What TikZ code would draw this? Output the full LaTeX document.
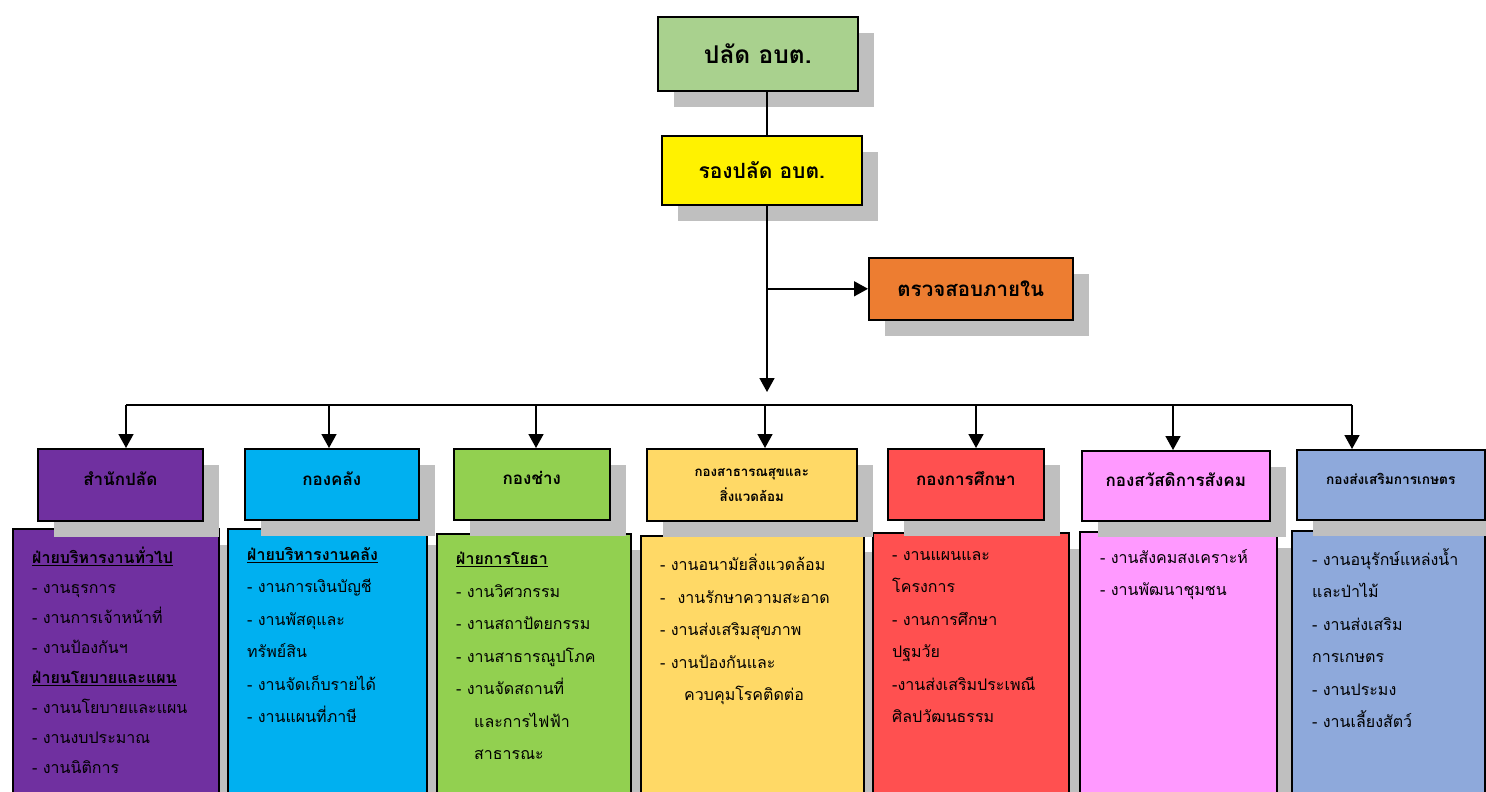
\documentclass[tikz,border=0pt]{standalone}
\usepackage{fontspec}
\newfontfamily\thaifont[Script=Thai]{Loma}
\usetikzlibrary{arrows.meta,shadows}
\definecolor{topgreen}{HTML}{A9D18E}
\definecolor{auditorange}{HTML}{ED7D31}
\definecolor{officepurple}{HTML}{7030A0}
\definecolor{financecyan}{HTML}{00B0F0}
\definecolor{worksgreen}{HTML}{92D050}
\definecolor{healthgold}{HTML}{FFD966}
\definecolor{edured}{HTML}{FF5050}
\definecolor{welfarepink}{HTML}{FF99FF}
\definecolor{agriblue}{HTML}{8EA9DB}
\definecolor{shadowgray}{HTML}{BFBFBF}
\tikzset{
  box/.style={draw,line width=1.6pt,anchor=north west,inner sep=0pt,
    general shadow={fill=shadowgray,shadow xshift=16pt,shadow yshift=-16pt}},
  headbox/.style={box,text depth=12pt,font=\thaifont\bfseries\fontsize{17}{20}\selectfont},
  bodybox/.style={box,minimum height=320pt},
  worklist/.style={anchor=north west,inner sep=0pt,align=left,text width=200pt,
    font=\thaifont\fontsize{16}{32.5}\selectfont},
  con/.style={line width=1.6pt},
  arr/.style={con,-{Triangle[length=14pt,width=15pt]}}
}
\begin{document}
\begin{tikzpicture}[x=1pt,y=-1pt]
  \useasboundingbox (0,0) rectangle (1486,792);
  % top of the chart
  \node[box,fill=topgreen,minimum width=200pt,minimum height=74pt,
    font=\thaifont\bfseries\fontsize{24.5}{28}\selectfont] (chief) at (657,16) {ปลัด อบต.};
  \node[box,fill=yellow,minimum width=200pt,minimum height=69pt,
    font=\thaifont\bfseries\fontsize{21}{24}\selectfont] (deputy) at (661,135) {รองปลัด อบต.};
  \node[box,fill=auditorange,minimum width=204pt,minimum height=62pt,
    font=\thaifont\bfseries\fontsize{20.5}{24}\selectfont] (audit) at (868,257) {ตรวจสอบภายใน};
  \coordinate (tip) at (767,392);
  \draw[con] (tip |- chief.south) -- (tip |- deputy.north);
  \draw[arr] (tip |- deputy.south) -- (tip);
  \draw[arr] (tip |- audit.west) -- (audit.west);
  \coordinate (busL) at (126,405);
  \coordinate (busR) at (1352,405);
  \draw[con] (busL) -- (busR);

  % divisions, lists first so the shadows of the heads lie on them
  \node[bodybox,fill=officepurple,minimum width=206pt] (b1) at (12,528) {};
  \node[bodybox,fill=financecyan,minimum width=199pt] (b2) at (227,528) {};
  \node[bodybox,fill=worksgreen,minimum width=194pt] (b3) at (436,533) {};
  \node[bodybox,fill=healthgold,minimum width=223pt] (b4) at (640,535) {};
  \node[bodybox,fill=edured,minimum width=196pt] (b5) at (872,532) {};
  \node[bodybox,fill=welfarepink,minimum width=197pt] (b6) at (1079,531) {};
  \node[bodybox,fill=agriblue,minimum width=193pt] (b7) at (1291,530) {};

  \node[worklist,font=\thaifont\fontsize{16}{30}\selectfont] (l1) at ([shift={(20,19)}]b1.north west)
    {\underline{\textbf{ฝ่ายบริหารงานทั่วไป}}\\- งานธุรการ\\- งานการเจ้าหน้าที่\\- งานป้องกันฯ\\
     \underline{\textbf{ฝ่ายนโยบายและแผน}}\\- งานนโยบายและแผน\\- งานงบประมาณ\\- งานนิติการ};
  \node[worklist] (l2) at ([shift={(20,19)}]b2.north west)
    {\underline{\textbf{ฝ่ายบริหารงานคลัง}}\\- งานการเงินบัญชี\\- งานพัสดุและ\\ทรัพย์สิน\\- งานจัดเก็บรายได้\\- งานแผนที่ภาษี};
  \node[worklist] (l3) at ([shift={(20,19)}]b3.north west)
    {\underline{\textbf{ฝ่ายการโยธา}}\\- งานวิศวกรรม\\- งานสถาปัตยกรรม\\- งานสาธารณูปโภค\\- งานจัดสถานที่\\
     \hspace*{18pt}และการไฟฟ้า\\\hspace*{18pt}สาธารณะ};
  \node[worklist] (l4) at ([shift={(20,19)}]b4.north west)
    {- งานอนามัยสิ่งแวดล้อม\\-\hspace{12pt}งานรักษาความสะอาด\\- งานส่งเสริมสุขภาพ\\- งานป้องกันและ\\
     \hspace*{24pt}ควบคุมโรคติดต่อ};
  \node[worklist] (l5) at ([shift={(20,19)}]b5.north west)
    {- งานแผนและ\\โครงการ\\- งานการศึกษา\\ปฐมวัย\\-งานส่งเสริมประเพณี\\ศิลปวัฒนธรรม};
  \node[worklist] (l6) at ([shift={(21,18)}]b6.north west)
    {- งานสังคมสงเคราะห์\\- งานพัฒนาชุมชน};
  \node[worklist] (l7) at ([shift={(21,18)}]b7.north west)
    {- งานอนุรักษ์แหล่งน้ำ\\และป่าไม้\\- งานส่งเสริม\\การเกษตร\\- งานประมง\\- งานเลี้ยงสัตว์};

  % heads of the divisions
  \node[headbox,fill=officepurple,minimum width=165pt,minimum height=72pt] (h1) at (37,448) {สำนักปลัด};
  \node[headbox,fill=financecyan,minimum width=174pt,minimum height=71pt] (h2) at (244,448) {กองคลัง};
  \node[headbox,fill=worksgreen,minimum width=156pt,minimum height=71pt] (h3) at (453,448) {กองช่าง};
  \node[headbox,fill=healthgold,minimum width=210pt,minimum height=72pt,align=center,text depth=0pt,
    font=\thaifont\bfseries\fontsize{13.3}{25}\selectfont] (h4) at (646,448) {กองสาธารณสุขและ\\สิ่งแวดล้อม};
  \node[headbox,fill=edured,minimum width=156pt,minimum height=71pt] (h5) at (887,448) {กองการศึกษา};
  \node[headbox,fill=welfarepink,minimum width=188pt,minimum height=70pt] (h6) at (1081,450) {กองสวัสดิการสังคม};
  \node[headbox,fill=agriblue,minimum width=188pt,minimum height=70pt,
    font=\thaifont\bfseries\fontsize{13.7}{16}\selectfont] (h7) at (1296,449) {กองส่งเสริมการเกษตร};

  \foreach \n/\x in {1/126,2/329,3/536,4/765,5/976,6/1173,7/1352}
    \draw[arr] (\x,405) -- (\x,405 |- h\n.north);
\end{tikzpicture}
\end{document}
